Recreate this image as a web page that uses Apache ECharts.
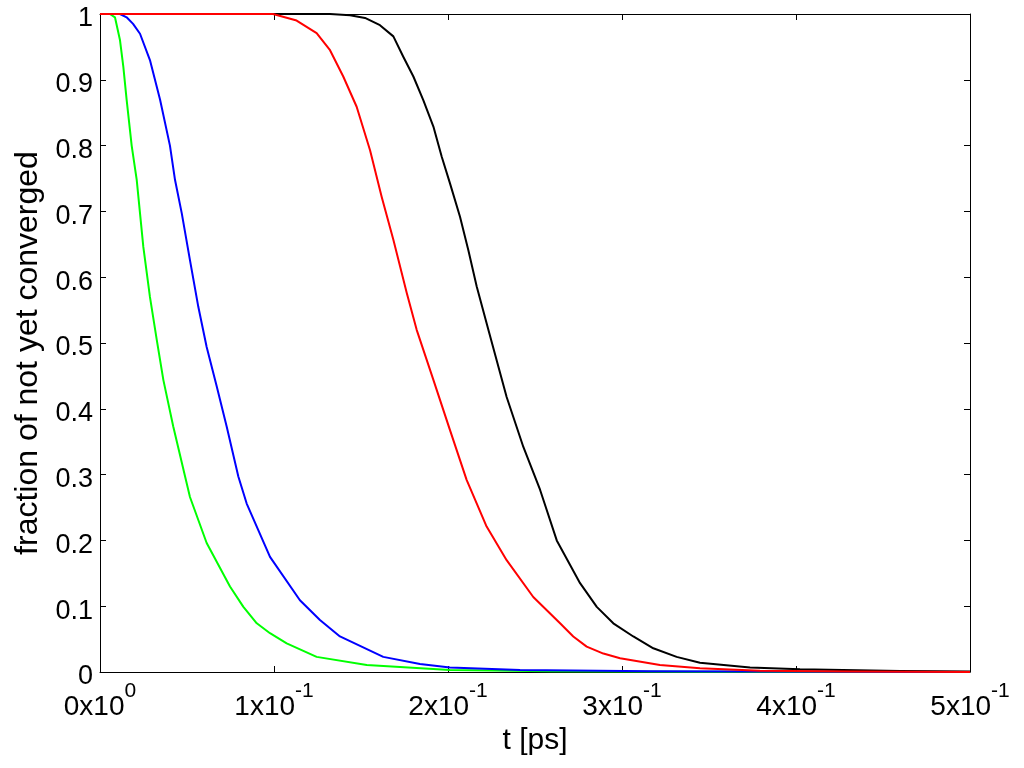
<!doctype html>
<html lang="en">
<head>
    <meta charset="UTF-8">
    <title>Convergence</title>
    <style>
        * {
            margin: 0;
            padding: 0;
        }

        body {
            background: #ffffff;
        }

        #chart {
            width: 1024px;
            height: 768px;
        }
    </style>
</head>
<body>
<div id="chart"></div>
<script src="https://cdn.jsdelivr.net/npm/echarts@6/dist/echarts.min.js"></script>
<script type="application/javascript">
    // tick labels of the t axis: mantissa x 10^exponent
    const xTickMantissa = [0, 1, 2, 3, 4, 5];
    const xTickExponent = [0, -1, -1, -1, -1, -1];

    // green curve
    const greenT = [0, 0.0057, 0.0086, 0.0115, 0.0134, 0.0153, 0.0182, 0.0211, 0.0249, 0.0287, 0.0326, 0.0364,
        0.0421, 0.0489, 0.0517, 0.0613, 0.0747, 0.0824, 0.0901, 0.0977, 0.1073, 0.1245, 0.1533, 0.2011, 0.2586,
        0.3448, 0.5];
    const greenY = [1, 1, 0.995, 0.96, 0.92, 0.87, 0.80, 0.748, 0.646, 0.570, 0.505, 0.444,
        0.373, 0.297, 0.266, 0.196, 0.130, 0.099, 0.074, 0.059, 0.0436, 0.023, 0.0106, 0.003, 0.001,
        0.0003, 0];

    // blue curve
    const blueT = [0, 0.0115, 0.0153, 0.019, 0.0230, 0.0287, 0.0345, 0.0402, 0.0431, 0.0470, 0.0517, 0.0565,
        0.0613, 0.0671, 0.0728, 0.0795, 0.0843, 0.0977, 0.1149, 0.1264, 0.1379, 0.1628, 0.1839, 0.2011, 0.2414,
        0.3161, 0.5];
    const blueY = [1, 1, 0.995, 0.985, 0.97, 0.93, 0.87, 0.80, 0.748, 0.697, 0.626, 0.555,
        0.494, 0.434, 0.373, 0.297, 0.256, 0.175, 0.109, 0.079, 0.054, 0.023, 0.012, 0.007, 0.003,
        0.001, 0];

    // red curve
    const redT = [0, 0.0994, 0.113, 0.1245, 0.1322, 0.1398, 0.1475, 0.1552, 0.1619, 0.1686, 0.1763, 0.182,
        0.1916, 0.2011, 0.2107, 0.2222, 0.2337, 0.249, 0.2644, 0.272, 0.2797, 0.2893, 0.2989, 0.3218, 0.3448,
        0.3793, 0.431, 0.5];
    const redY = [1, 1, 0.99, 0.971, 0.945, 0.905, 0.859, 0.793, 0.722, 0.657, 0.576, 0.52,
        0.444, 0.368, 0.292, 0.221, 0.170, 0.114, 0.074, 0.054, 0.0385, 0.028, 0.021, 0.0106, 0.0056,
        0.002, 0.0006, 0];

    // black curve
    const blackT = [0, 0.1322, 0.1437, 0.1523, 0.1609, 0.1686, 0.1743, 0.1801, 0.1858, 0.1916, 0.1964, 0.2011,
        0.2069, 0.2117, 0.2165, 0.2232, 0.2337, 0.2433, 0.2529, 0.2625, 0.2759, 0.2855, 0.295, 0.3065, 0.318,
        0.3314, 0.3448, 0.3736, 0.4023, 0.4598, 0.5];
    const blackY = [1, 1, 0.998, 0.994, 0.983, 0.966, 0.935, 0.905, 0.869, 0.829, 0.783, 0.743,
        0.692, 0.641, 0.586, 0.52, 0.418, 0.342, 0.277, 0.2, 0.135, 0.099, 0.074, 0.054, 0.036,
        0.023, 0.014, 0.007, 0.004, 0.0015, 0.0008];

    const FONT = 'Liberation Sans';

    const pairs = function (t, y) {
        return t.map(function (v, i) {
            return [v, y[i]];
        });
    };

    const makeLine = function (name, t, y, color) {
        return {
            name: name,
            type: 'line',
            data: pairs(t, y),
            showSymbol: false,
            smooth: false,
            lineStyle: {color: color, width: 2, join: 'round'},
            silent: true
        };
    };

    const boxAxis = {
        axisLine: {show: true, onZero: false, lineStyle: {color: '#000', width: 1}},
        axisTick: {show: true, inside: true, length: 6, lineStyle: {color: '#000', width: 1}},
        splitLine: {show: false}
    };

    const chart = echarts.init(document.getElementById('chart'), null, {renderer: 'canvas'});

    chart.setOption({
        backgroundColor: '#ffffff',
        animation: false,
        grid: {left: 100, right: 54, top: 14, bottom: 96, containLabel: false, outerBoundsMode: 'none'},
        xAxis: [
            Object.assign({
                type: 'value',
                min: 0,
                max: 0.5,
                interval: 0.1,
                name: 't [ps]',
                nameLocation: 'middle',
                nameGap: 46,
                nameTextStyle: {fontFamily: FONT, fontSize: 30, color: '#000'},
                axisLabel: {
                    margin: 9,
                    color: '#000',
                    formatter: function (value, index) {
                        return '{b|' + xTickMantissa[index] + 'x10}{s|' + xTickExponent[index] + '}';
                    },
                    rich: {
                        b: {fontFamily: FONT, fontSize: 28, lineHeight: 40, color: '#000', verticalAlign: 'bottom'},
                        s: {fontFamily: FONT, fontSize: 21, lineHeight: 21, color: '#000', verticalAlign: 'top'}
                    }
                }
            }, boxAxis),
            Object.assign({
                type: 'value',
                position: 'top',
                min: 0,
                max: 0.5,
                interval: 0.1,
                axisLabel: {show: false}
            }, boxAxis)
        ],
        yAxis: [
            Object.assign({
                type: 'value',
                min: 0,
                max: 1,
                interval: 0.1,
                name: 'fraction of not yet converged',
                nameLocation: 'middle',
                nameGap: 48,
                nameTextStyle: {fontFamily: FONT, fontSize: 32, color: '#000', padding: [0, 20, 0, 0]},
                axisLabel: {
                    margin: 7,
                    color: '#000',
                    formatter: function (value) {
                        return '{v|' + Math.round(value * 10) / 10 + '}';
                    },
                    rich: {
                        v: {fontFamily: FONT, fontSize: 27, lineHeight: 30, color: '#000', padding: [10, 0, 0, 0]}
                    }
                }
            }, boxAxis),
            Object.assign({
                type: 'value',
                position: 'right',
                min: 0,
                max: 1,
                interval: 0.1,
                axisLabel: {show: false}
            }, boxAxis)
        ],
        series: [
            makeLine('green', greenT, greenY, '#00ff00'),
            makeLine('blue', blueT, blueY, '#0000ff'),
            makeLine('black', blackT, blackY, '#000000'),
            makeLine('red', redT, redY, '#ff0000')
        ]
    });
</script>
</body>
</html>
